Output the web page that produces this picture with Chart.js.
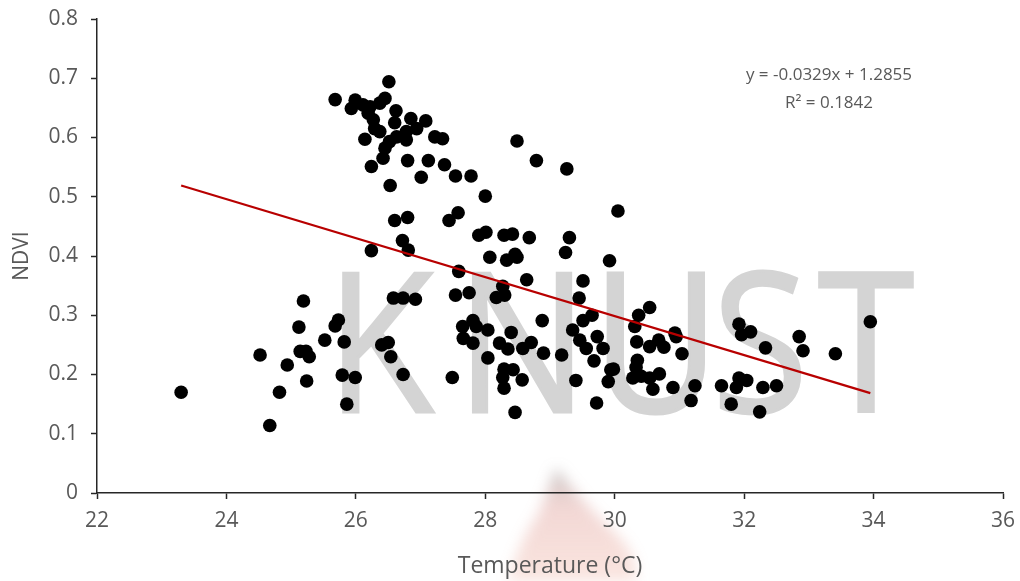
<!DOCTYPE html>
<html>
<head>
<meta charset="utf-8">
<title>NDVI vs Temperature</title>
<script src="https://cdn.jsdelivr.net/npm/chart.js@4.4.1/dist/chart.umd.min.js"></script>
<style>
    html, body { margin: 0; padding: 0; background: #fff; }
    #wrap { width: 1020px; height: 581px; }
</style>
</head>
<body>
<div id="wrap"><canvas id="ndviChart" width="1020" height="581"></canvas></div>
<script>
// temperature (°C) and NDVI for each sampled point
const temperature = [
    26.51, 25.68, 25.99, 25.93, 26.11, 26.22, 26.45, 26.37, 26.19, 26.27,
    26.62, 26.60, 26.85, 27.08, 26.29, 26.37, 26.94, 26.78, 27.22, 27.34,
    26.14, 26.63, 26.52, 26.78, 26.45, 26.42, 26.24, 26.80, 27.12, 27.37,
    27.01, 26.53, 26.60, 26.80, 27.44, 26.72, 26.81, 26.24,
    25.19, 26.58, 26.73, 26.92, 25.12, 25.73, 25.68, 25.52, 25.82, 24.52,
    25.14, 25.23, 25.28, 24.94, 26.40, 26.50, 26.54, 25.24, 25.79, 25.99,
    26.73, 23.30, 24.82, 25.86, 24.67,
    27.54, 27.78, 28.49, 28.79, 29.26, 28.00, 30.05, 27.58, 27.90, 28.01,
    28.29, 28.42, 28.68, 29.30, 28.07, 28.33, 28.46, 28.49, 29.24, 29.92,
    27.59, 28.27, 28.64, 29.51, 27.54, 27.75, 28.17, 28.30, 29.45,
    30.54, 30.37, 29.65, 29.51, 28.88, 27.81, 27.65, 28.04, 27.86, 29.35,
    30.31, 30.93, 30.95, 27.66, 27.81, 28.40, 29.46, 29.73, 28.22, 28.35,
    28.58, 28.71, 28.90, 29.18, 29.56, 29.82, 30.34, 30.54, 30.68, 30.76,
    31.04, 28.04, 29.68, 30.35, 28.29, 28.43, 29.98, 30.33, 29.94, 27.49,
    28.27, 28.57, 29.40, 29.90, 30.28, 30.41, 30.54, 30.69, 28.29, 30.59,
    30.90, 31.24, 29.72, 31.18, 28.46,
    31.92, 31.96, 32.10, 32.33, 32.85, 32.91, 33.41, 33.95, 31.65, 31.92,
    32.04, 31.88, 32.29, 32.50, 31.80, 32.24
];
const ndvi = [
    0.694, 0.664, 0.663, 0.649, 0.655, 0.652, 0.666, 0.658, 0.641, 0.630,
    0.645, 0.625, 0.632, 0.628, 0.615, 0.610, 0.615, 0.610, 0.601, 0.598,
    0.597, 0.601, 0.593, 0.596, 0.582, 0.565, 0.551, 0.561, 0.561, 0.554,
    0.533, 0.519, 0.460, 0.465, 0.460, 0.426, 0.410, 0.409,
    0.324, 0.329, 0.329, 0.327, 0.280, 0.292, 0.282, 0.258, 0.255, 0.233,
    0.239, 0.239, 0.230, 0.216, 0.250, 0.254, 0.230, 0.189, 0.199, 0.195,
    0.200, 0.170, 0.170, 0.150, 0.114,
    0.535, 0.535, 0.594, 0.561, 0.547, 0.501, 0.476, 0.473, 0.435, 0.440,
    0.435, 0.437, 0.431, 0.431, 0.398, 0.393, 0.403, 0.398, 0.406, 0.392,
    0.374, 0.349, 0.360, 0.358, 0.334, 0.338, 0.330, 0.334, 0.329,
    0.313, 0.300, 0.300, 0.291, 0.291, 0.291, 0.281, 0.275, 0.281, 0.275,
    0.281, 0.270, 0.264, 0.261, 0.253, 0.271, 0.258, 0.264, 0.253, 0.243,
    0.244, 0.254, 0.236, 0.233, 0.244, 0.244, 0.255, 0.247, 0.258, 0.246,
    0.235, 0.228, 0.223, 0.224, 0.209, 0.208, 0.209, 0.212, 0.208, 0.195,
    0.195, 0.191, 0.190, 0.188, 0.194, 0.197, 0.194, 0.201, 0.177, 0.175,
    0.178, 0.181, 0.152, 0.156, 0.136,
    0.285, 0.267, 0.272, 0.245, 0.264, 0.240, 0.235, 0.289, 0.181, 0.194,
    0.190, 0.178, 0.178, 0.181, 0.150, 0.137
];

// linear trend  y = slope * x + intercept
const slope = -0.0329;
const intercept = 1.2855;
const rSquared = 0.1842;

const xTicks = [22, 24, 26, 28, 30, 32, 34, 36];
const yTicks = [0, 0.1, 0.2, 0.3, 0.4, 0.5, 0.6, 0.7, 0.8];

const points = temperature.map((t, i) => ({ x: t, y: ndvi[i] }));
const tMin = Math.min(...temperature);
const tMax = Math.max(...temperature);
const trend = [
    { x: tMin, y: slope * tMin + intercept },
    { x: tMax, y: slope * tMax + intercept }
];

const textGrey = '#595959';
const axisColor = '#262626';
const fontFamily = '"Open Sans", "Liberation Sans", sans-serif';

// faded KNUST watermark and flame behind the plot
const watermark = {
    id: 'watermark',
    beforeDraw(chart) {
        const ctx = chart.ctx;
        ctx.save();

        // flame
        ctx.filter = 'blur(7px)';
        let g = ctx.createLinearGradient(0, 468, 0, 581);
        g.addColorStop(0, 'rgba(100,100,100,0.38)');
        g.addColorStop(0.35, 'rgba(205,100,90,0.26)');
        g.addColorStop(1, 'rgba(225,110,80,0.18)');
        ctx.fillStyle = g;
        ctx.beginPath();
        ctx.moveTo(556, 468);
        ctx.quadraticCurveTo(585, 505, 612, 530);
        ctx.quadraticCurveTo(640, 555, 636, 581);
        ctx.lineTo(508, 581);
        ctx.quadraticCurveTo(520, 540, 538, 515);
        ctx.quadraticCurveTo(548, 490, 556, 468);
        ctx.closePath();
        ctx.fill();
        ctx.filter = 'none';

        // KNUST letters
        ctx.fillStyle = 'rgb(212,212,212)';
        ctx.strokeStyle = 'rgb(212,212,212)';
        ctx.lineWidth = 3;
        ctx.font = '194px ' + fontFamily;
        ctx.textAlign = 'center';
        ctx.textBaseline = 'alphabetic';
        const letters = [['K', 380], ['N', 522], ['U', 656], ['S', 760], ['T', 866]];
        letters.forEach(([ch, cx]) => {
            ctx.save();
            ctx.translate(cx, 412);
            ctx.scale(0.9, 1);
            ctx.fillText(ch, 0, 0);
            ctx.strokeText(ch, 0, 0);
            ctx.restore();
        });
        ctx.restore();
    }
};

// regression equation and R² label
const trendLabel = {
    id: 'trendLabel',
    afterDraw(chart) {
        const ctx = chart.ctx;
        ctx.save();
        ctx.fillStyle = textGrey;
        ctx.font = '17px ' + fontFamily;
        ctx.textAlign = 'center';
        ctx.textBaseline = 'middle';
        ctx.fillText('y = ' + slope.toFixed(4) + 'x + ' + intercept.toFixed(4), 829, 75);
        ctx.fillText('R² = ' + rSquared.toFixed(4), 829, 103);
        ctx.restore();
    }
};

new Chart(document.getElementById('ndviChart'), {
    type: 'scatter',
    data: {
        datasets: [
            {
                type: 'line',
                data: trend,
                borderColor: '#b80000',
                borderWidth: 2.2,
                pointRadius: 0,
                fill: false,
                order: 0
            },
            {
                data: points,
                backgroundColor: '#000',
                borderColor: '#000',
                borderWidth: 0,
                pointRadius: 6.8,
                pointHoverRadius: 6.8,
                order: 1
            }
        ]
    },
    options: {
        responsive: false,
        animation: false,
        events: [],
        layout: { padding: { top: 19, right: 17, left: 0, bottom: 0 } },
        plugins: {
            legend: { display: false },
            tooltip: { enabled: false }
        },
        scales: {
            x: {
                type: 'linear',
                min: 22,
                max: 36,
                afterBuildTicks: s => { s.ticks = xTicks.map(v => ({ value: v })); },
                afterFit: s => { s.height = 88; s.paddingLeft = 0; s.paddingRight = 0; },
                border: { color: axisColor, width: 1.5 },
                grid: { drawOnChartArea: false, tickLength: 6, tickColor: axisColor, tickWidth: 1.5 },
                ticks: { color: textGrey, padding: 9, font: { family: fontFamily, size: 21 } },
                title: {
                    display: true,
                    text: 'Temperature (°C)',
                    color: textGrey,
                    font: { family: fontFamily, size: 23 },
                    padding: { top: 1, bottom: 1 }
                }
            },
            y: {
                min: 0,
                max: 0.8,
                afterBuildTicks: s => { s.ticks = yTicks.map(v => ({ value: v })); },
                afterFit: s => { s.width = 97; s.paddingTop = 0; s.paddingBottom = 0; },
                border: { color: axisColor, width: 1.5 },
                grid: { drawOnChartArea: false, tickLength: 6, tickColor: axisColor, tickWidth: 1.5 },
                ticks: {
                    color: textGrey,
                    padding: 13,
                    font: { family: fontFamily, size: 21 },
                    callback: v => String(v)
                },
                title: {
                    display: true,
                    text: 'NDVI',
                    color: textGrey,
                    font: { family: fontFamily, size: 21 },
                    padding: { top: 9, bottom: 9 }
                }
            }
        }
    },
    plugins: [watermark, trendLabel]
});
</script>
</body>
</html>
